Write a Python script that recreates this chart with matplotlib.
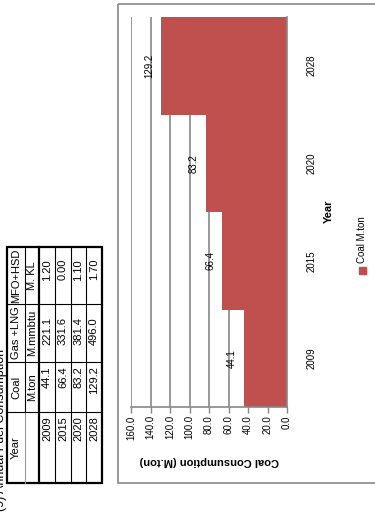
import matplotlib
matplotlib.use('Agg')
import matplotlib.pyplot as plt
from matplotlib.patches import Rectangle

# --- data ---
years = ["2009", "2015", "2020", "2028"]
coal = [44.1, 66.4, 83.2, 129.2]
gas = [221.1, 331.6, 381.4, 496.0]
mfo = [1.20, 0.00, 1.10, 1.70]
headers = ["Year", "Coal", "Gas +LNG", "MFO+HSD"]
units = ["", "M.ton", "M.mmbtu", "M. KL"]
value_ticks = [0, 20, 40, 60, 80, 100, 120, 140, 160]

BAR = "#C0504D"
GRID = "#878787"
W, H = 375, 514

plt.rcParams['font.family'] = ['Liberation Sans', 'DejaVu Sans']

fig = plt.figure(figsize=(W / 100, H / 100), dpi=100)

# whole page in pixel coords (y down), used for the table and loose texts
page = fig.add_axes([0, 0, 1, 1], zorder=0)
page.set_xlim(0, W)
page.set_ylim(H, 0)
page.axis('off')


def px(x0, y0, x1, y1):
    return [x0 / W, 1 - y1 / H, (x1 - x0) / W, (y1 - y0) / H]


# --- table (page is turned 90 deg, so table rows run left -> right) ---
rows_x = [7, 25, 39, 55, 71, 86, 102]
col_y = [483, 412, 362, 304, 247]   # Year | Coal | Gas | MFO, bottom -> top

page.add_patch(Rectangle((rows_x[0], col_y[-1]), rows_x[-1] - rows_x[0],
                         col_y[0] - col_y[-1], fill=False, ec="black", lw=1.6))
page.plot([39, 39], [col_y[-1], col_y[0]], color="black", lw=1.6)
page.plot([25, 25], [col_y[-1], col_y[1]], color="black", lw=0.8)
page.plot([25, 25], [col_y[1], col_y[0]], color="#9a9a9a", lw=0.8)
for x in rows_x[3:-1]:
    page.plot([x, x], [col_y[-1], col_y[0]], color="black", lw=0.8)
for y in col_y[1:-1]:
    page.plot([rows_x[0], rows_x[-1]], [y, y], color="black", lw=0.8)

cells = [years,
         [f"{v:.1f}" for v in coal],
         [f"{v:.1f}" for v in gas],
         [f"{v:.2f}" for v in mfo]]
pads = [4, 4, 13, 12]
for j in range(4):
    y_hi, y_lo = col_y[j + 1], col_y[j]
    yc = (y_hi + y_lo) / 2
    page.text(16, yc, headers[j], rotation=90, ha="center", va="center", fontsize=8)
    page.text(32, yc, units[j], rotation=90, ha="center", va="center", fontsize=8)
    for i, txt in enumerate(cells[j]):
        xc = (rows_x[i + 2] + rows_x[i + 3]) / 2
        page.text(xc, y_hi + pads[j], txt, rotation=90, ha="center", va="top", fontsize=8)

page.text(1, 511, "(9) Annual Fuel Consumption", rotation=90, ha="center",
          va="bottom", fontsize=9)

# --- chart frame ---
page.add_patch(Rectangle((118, 4), 262, 479, fill=False, ec=GRID, lw=1.2))

ax = fig.add_axes(px(131, 17, 287, 407), zorder=1)
ax.barh(range(len(years)), coal, height=1.0, color=BAR, zorder=2)
ax.set_xlim(160, 0)
ax.set_ylim(-0.5, len(years) - 0.5)

ax.set_xticks(value_ticks)
ax.set_xticklabels([f"{v:.1f}" for v in value_ticks], rotation=90, fontsize=7)
ax.xaxis.grid(True, color=GRID, lw=1.2)
ax.set_axisbelow(True)
ax.tick_params(axis="x", direction="out", length=4, color=GRID, width=1, pad=2)

ax.yaxis.tick_right()
ax.set_yticks(range(len(years)))
ax.set_yticklabels(years, rotation=90, fontsize=7, va="center")
ax.tick_params(axis="y", length=0, pad=14)

for s in ["left", "top"]:
    ax.spines[s].set_visible(False)
for s in ["right", "bottom"]:
    ax.spines[s].set_color(GRID)
    ax.spines[s].set_linewidth(1.2)

for i, v in enumerate(coal):
    ax.annotate(f"{v:.1f}", (v, i), xytext=(-12, 0), textcoords="offset pixels",
                rotation=90, ha="center", va="center", fontsize=7)

page.text(209, 461, "Coal Consumption (M.ton)", rotation=180, ha="center",
          va="center", fontsize=8, fontweight="bold")
page.text(329, 211, "Year", rotation=90, ha="center", va="center",
          fontsize=8, fontweight="bold")

# legend
page.add_patch(Rectangle((359, 267), 7, 7, color=BAR))
page.text(362, 263, "Coal M.ton", rotation=90, ha="center", va="bottom", fontsize=7)

fig.savefig("out.png", dpi=100)
